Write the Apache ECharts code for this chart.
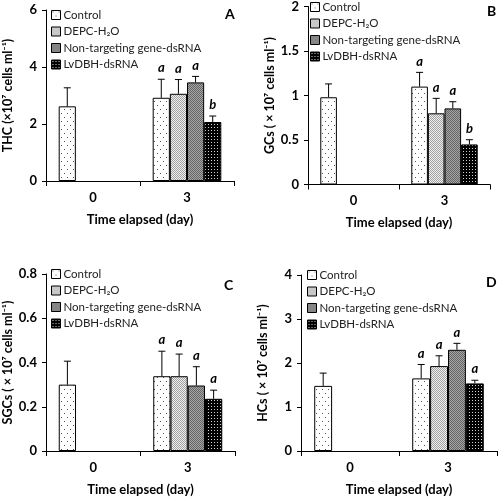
<!DOCTYPE html>
<html>
<head>
<meta charset="utf-8">
<script src="https://cdn.jsdelivr.net/npm/echarts@6/dist/echarts.min.js"></script>
<style>html,body{margin:0;padding:0;background:#fff}#c{width:500px;height:497px}</style>
</head>
<body>
<div id="c"></div>
<script>
// ---------- data ----------
const categories = ['0', '3'];
const groupNames = ['Control', 'DEPC-H\u2082O', 'Non-targeting gene-dsRNA', 'LvDBH-dsRNA'];

// Panel A: THC
const thcMean = [[2.62, 2.92], [null, 3.06], [null, 3.46], [null, 2.07]];
const thcErr  = [[0.65, 0.65], [null, 0.50], [null, 0.21], [null, 0.21]];
const thcLetters = [[null, 'a'], [null, 'a'], [null, 'a'], [null, 'b']];
// Panel B: GCs
const gcMean = [[0.98, 1.10], [null, 0.80], [null, 0.855], [null, 0.45]];
const gcErr  = [[0.15, 0.16], [null, 0.168], [null, 0.075], [null, 0.053]];
const gcLetters = [[null, 'a'], [null, 'a'], [null, 'a'], [null, 'b']];
// Panel C: SGCs
const sgcMean = [[0.30, 0.338], [null, 0.338], [null, 0.296], [null, 0.236]];
const sgcErr  = [[0.106, 0.113], [null, 0.10], [null, 0.085], [null, 0.039]];
const sgcLetters = [[null, 'a'], [null, 'a'], [null, 'a'], [null, 'a']];
// Panel D: HCs
const hcMean = [[1.48, 1.65], [null, 1.93], [null, 2.30], [null, 1.536]];
const hcErr  = [[0.29, 0.316], [null, 0.234], [null, 0.147], [null, 0.072]];
const hcLetters = [[null, 'a'], [null, 'a'], [null, 'a'], [null, 'a']];

const yTitles = [
  'THC (\u00d710\u2077 cells ml\u207b\u00b9)',
  'GCs ( \u00d7 10\u2077 cells ml\u207b\u00b9)',
  'SGCs ( \u00d7 10\u2077 cells ml\u207b\u00b9)',
  'HCs ( \u00d7 10\u2077 cells ml\u207b\u00b9)'
];
const yMax = [6, 2, 0.8, 4];
const yInterval = [2, 0.5, 0.2, 1];
const panelLetters = ['A', 'B', 'C', 'D'];
const xTitle = 'Time elapsed (day)';

// ---------- styling ----------
const FONT = 'Lato';
function makePattern(w, h, bg, dotColor, dots) {
  const c = document.createElement('canvas');
  c.width = w; c.height = h;
  const ctx = c.getContext('2d');
  ctx.fillStyle = bg; ctx.fillRect(0, 0, w, h);
  ctx.fillStyle = dotColor;
  dots.forEach(d => ctx.fillRect(d[0], d[1], 1, 1));
  return { image: c, repeat: 'repeat' };
}
const fills = [
  makePattern(6, 8, '#ffffff', '#555555', [[1, 1], [4, 5]]),
  makePattern(2, 2, '#f0f0f0', '#a0a0a0', [[0, 0], [1, 1]]),
  makePattern(2, 2, '#a4a4a4', '#666666', [[0, 0], [1, 1]]),
  makePattern(3, 3, '#000000', '#d0d0d0', [[1, 1]])
];

const grids = [
  { left: 45, top: 10, width: 189, height: 171 },
  { left: 308, top: 5.5, width: 182, height: 179 },
  { left: 43, top: 274, width: 192, height: 181 },
  { left: 301, top: 275, width: 196, height: 182 }
];
const legendPos = [
  { left: 51, top: 9 },
  { left: 310, top: 1 },
  { left: 51, top: 268 },
  { left: 307, top: 269 }
];
const titlePos = [
  { left: 220, top: 2 },
  { left: 482, top: -1 },
  { left: 219, top: 273 },
  { left: 481, top: 270 }
];
const GAP = 0.27;

const panels = [
  [thcMean, thcErr, thcLetters],
  [gcMean, gcErr, gcLetters],
  [sgcMean, sgcErr, sgcLetters],
  [hcMean, hcErr, hcLetters]
];

const option = {
  animation: false,
  backgroundColor: '#fff',
  title: [], grid: [], xAxis: [], yAxis: [], legend: [], series: []
};

panels.forEach((p, k) => {
  const [means, errs, letters] = p;
  option.grid.push(Object.assign({ containLabel: false }, grids[k]));
  option.title.push(Object.assign({
    text: panelLetters[k],
    textStyle: { fontFamily: FONT, fontWeight: 'bold', fontSize: 14, color: '#000' }
  }, titlePos[k]));
  option.legend.push(Object.assign({
    orient: 'vertical', selectedMode: false,
    data: groupNames, icon: 'rect', itemWidth: 9, itemHeight: 9, itemGap: 4.5,
    padding: 0,
    itemStyle: { borderColor: '#000', borderWidth: 1 },
    textStyle: { fontFamily: FONT, fontSize: 11.5, color: '#222', padding: [0, 0, 0, -2] }
  }, legendPos[k]));
  option.xAxis.push({
    type: 'category', gridIndex: k, data: categories,
    axisLine: { lineStyle: { color: '#000', width: 1 } },
    axisTick: { show: true, alignWithLabel: false, length: 5, lineStyle: { color: '#000' } },
    axisLabel: { fontFamily: FONT, fontWeight: 'bold', fontSize: 13, color: '#000', margin: 10 },
    name: xTitle, nameLocation: 'middle', nameGap: 32,
    nameTextStyle: { fontFamily: FONT, fontWeight: 'bold', fontSize: 13, color: '#000' }
  });
  option.yAxis.push({
    type: 'value', gridIndex: k, min: 0, max: yMax[k], interval: yInterval[k],
    axisLine: { show: true, lineStyle: { color: '#000', width: 1 } },
    axisTick: { show: true, inside: false, length: 4, lineStyle: { color: '#000' } },
    splitLine: { show: false },
    axisLabel: { fontFamily: FONT, fontWeight: 'bold', fontSize: 13, color: '#000', margin: 9 },
    name: yTitles[k], nameLocation: 'middle', nameGap: 32,
    nameTextStyle: { fontFamily: FONT, fontWeight: 'bold', fontSize: 12.5, color: '#000' }
  });
  means.forEach((vals, i) => {
    option.series.push({
      type: 'bar', name: groupNames[i], xAxisIndex: k, yAxisIndex: k,
      data: vals, barGap: '0%', barCategoryGap: (GAP * 100) + '%',
      itemStyle: { color: fills[i], borderColor: '#000', borderWidth: 1 },
      z: 2
    });
  });
  means.forEach((vals, i) => {
    const d = [];
    vals.forEach((v, j) => { if (v != null) d.push([j, v, errs[i][j]]); });
    option.series.push({
      type: 'custom', xAxisIndex: k, yAxisIndex: k, z: 5, silent: true,
      data: d,
      renderItem: function (params, api) {
        const cat = api.value(0), m = api.value(1), e = api.value(2);
        const bandW = api.size([1, 0])[0];
        const barW = bandW * (1 - GAP) / 4;
        const base = api.coord([cat, m]);
        const top = api.coord([cat, m + e]);
        const x = base[0] - 2 * barW + (i + 0.5) * barW;
        const letter = letters[i][cat];
        const children = [
          { type: 'line', shape: { x1: x, y1: base[1], x2: x, y2: top[1] }, style: { stroke: '#000', lineWidth: 1 } },
          { type: 'line', shape: { x1: x - 3.5, y1: top[1], x2: x + 3.5, y2: top[1] }, style: { stroke: '#000', lineWidth: 1 } }
        ];
        if (letter) {
          children.push({
            type: 'text', x: x, y: top[1] - 11,
            style: { text: letter, fill: '#000', align: 'center', verticalAlign: 'middle',
              font: 'italic bold 13px ' + FONT }
          });
        }
        return { type: 'group', children: children };
      }
    });
  });
});

const chart = echarts.init(document.getElementById('c'), null, { renderer: 'canvas' });
chart.setOption(option);
</script>
</body>
</html>
